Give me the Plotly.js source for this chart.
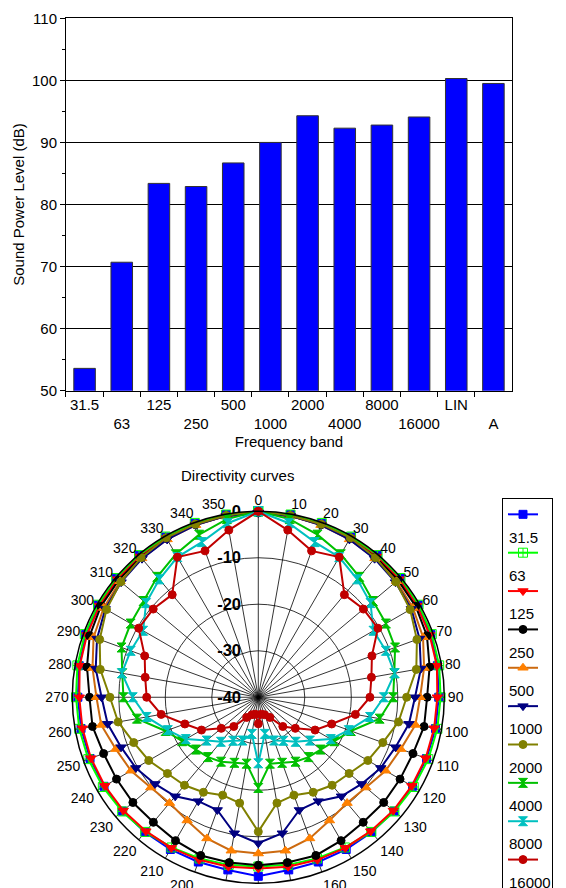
<!DOCTYPE html>
<html>
<head>
<meta charset="utf-8">
<script src="https://cdn.plot.ly/plotly-3.0.1.min.js"></script>
<style>html,body{margin:0;padding:0;background:#fff;}#chart{width:566px;height:888px;}</style>
</head>
<body>
<div id="chart"></div>
<script>
// ---- Bar chart data ----
const bands = ['31.5','63','125','250','500','1000','2000','4000','8000','16000','LIN','A'];
const bandTickText = ['31.5',' <br>63','125',' <br>250','500',' <br>1000','2000',' <br>4000','8000',' <br>16000','LIN',' <br>A'];
const levels = [53.6, 70.7, 83.4, 82.9, 86.7, 90.0, 94.3, 92.3, 92.8, 94.1, 100.3, 99.5];

// ---- Directivity data (dB relative, angle in degrees) ----
const angles = [0,10,20,30,40,50,60,70,80,90,100,110,120,130,140,150,160,170,180,190,200,210,220,230,240,250,260,270,280,290,300,310,320,330,340,350];
const angleLabels = ['0','10','20','30','40','50','60','70','80','90','100','110','120','130','140','150','160','170','180','190','200','210','220','230','240','250','260','270','280','290','300','310','320','330','340','350'];
const radialTicks = [-40,-30,-20,-10,0];
const radialLabels = ['-40','-30','-20','-10','0'];
const seriesNames = ['31.5','63','125','250','500','1000','2000','4000','8000','16000'];
const d31_5 = [0,-0.1,-0.2,-0.2,-0.2,-0.2,-0.3,-0.5,-0.9,-1.2,-1.3,-1.5,-1.7,-1.9,-2.1,-2.2,-2.3,-2.3,-1.5,
               -2.3,-2.3,-2.2,-2.1,-1.9,-1.7,-1.5,-1.3,-1.2,-0.9,-0.5,-0.3,-0.2,-0.2,-0.2,-0.2,-0.1];
const d63   = [0,-0.1,-0.1,-0.1,-0.1,-0.1,-0.2,-0.3,-0.5,-0.8,-0.9,-1.1,-1.4,-1.8,-2.2,-2.7,-3.1,-3.4,-3.6,
               -3.4,-3.1,-2.7,-2.2,-1.8,-1.4,-1.1,-0.9,-0.8,-0.5,-0.3,-0.2,-0.1,-0.1,-0.1,-0.1,-0.1];
const d125  = [-0.3,-0.4,-0.5,-0.5,-0.5,-0.5,-0.6,-0.8,-1.0,-1.5,-1.6,-1.7,-1.9,-2.1,-2.4,-2.6,-2.8,-3.0,-3.2,
               -3.0,-2.8,-2.6,-2.4,-2.1,-1.9,-1.7,-1.6,-1.5,-1.0,-0.8,-0.6,-0.5,-0.5,-0.5,-0.5,-0.4];
const d250  = [-0.3,-0.4,-0.5,-0.6,-0.7,-0.8,-0.9,-1.4,-2.6,-3.7,-3.8,-4.6,-4.8,-4.8,-4.9,-4.4,-3.8,-3.9,-3.9,
               -3.9,-3.8,-4.4,-4.9,-4.8,-4.8,-4.6,-3.8,-3.7,-2.6,-1.4,-0.9,-0.8,-0.7,-0.6,-0.5,-0.4];
const d500  = [-0.3,-0.4,-0.6,-0.8,-1.0,-1.2,-1.6,-2.3,-3.8,-5.2,-5.7,-7.4,-8.4,-9.8,-10.3,-9.4,-7.7,-6.5,-6.4,
               -6.5,-7.7,-9.4,-10.3,-9.8,-8.4,-7.4,-5.7,-5.2,-3.8,-2.3,-1.6,-1.2,-1.0,-0.8,-0.6,-0.4];
const d1000 = [-0.3,-0.4,-0.6,-0.8,-1.1,-1.5,-2.0,-3.1,-4.5,-6.3,-7.1,-8.6,-9.6,-11.0,-12.2,-14.2,-14.2,-10.3,-8.6,
               -10.3,-14.2,-14.2,-12.2,-11.0,-9.6,-8.6,-7.1,-6.3,-4.5,-3.1,-2.0,-1.5,-1.1,-0.8,-0.6,-0.4];
const d2000 = [0,-0.3,-0.4,-0.4,-0.8,-1.4,-2.3,-3.7,-5.5,-8.1,-9.4,-11.5,-12.8,-14.5,-15.3,-16.4,-17.6,-16.9,-11.1,
               -16.9,-17.6,-16.4,-15.3,-14.5,-12.8,-11.5,-9.4,-8.1,-5.5,-3.7,-2.3,-1.4,-0.8,-0.4,-0.4,-0.3];
const d4000 = [0,-1.1,-2.8,-4.5,-6.2,-7.8,-8.3,-8.7,-10.3,-11.0,-13.5,-18.8,-21.1,-22.5,-23.2,-24.0,-25.0,-25.5,-20.5,
               -25.5,-25.0,-24.0,-23.2,-22.5,-21.1,-18.8,-13.5,-11.0,-10.3,-8.7,-8.3,-7.8,-6.2,-4.5,-2.8,-1.1];
const d8000 = [0,-2.0,-4.5,-5.2,-6.9,-8.5,-11.4,-10.8,-10.2,-13.0,-15.6,-19.3,-22.0,-25.5,-27.5,-29.2,-30.1,-32.0,-25.8,
               -32.0,-30.1,-29.2,-27.5,-25.5,-22.0,-19.3,-15.6,-13.0,-10.2,-10.8,-11.4,-8.5,-6.9,-5.2,-4.5,-2.0];
const d16000= [0,-3.5,-6.5,-5.2,-11.2,-10.5,-10.3,-14.0,-15.3,-16.0,-18.8,-23.2,-25.9,-29.6,-31.8,-35.0,-36.0,-36.3,-34.3,
               -36.3,-36.0,-35.0,-31.8,-29.6,-25.9,-23.2,-18.8,-16.0,-15.3,-14.0,-10.3,-10.5,-11.2,-5.2,-6.5,-3.5];
const seriesData = [d31_5,d63,d125,d250,d500,d1000,d2000,d4000,d8000,d16000];

const styles = [
  {line:'#0000FF', marker:'#0000FF', symbol:'square', size:8},
  {line:'#00FF00', marker:'#00FF00', symbol:'square-cross-open', size:9},
  {line:'#FF0000', marker:'#FF0000', symbol:'triangle-down', size:9},
  {line:'#000000', marker:'#000000', symbol:'circle', size:8},
  {line:'#CC6A10', marker:'#FF8000', symbol:'triangle-up', size:9},
  {line:'#000080', marker:'#000080', symbol:'triangle-down', size:9},
  {line:'#808000', marker:'#808000', symbol:'circle', size:8},
  {line:'#00C000', marker:'#00C000', symbol:'hourglass', size:9},
  {line:'#00C0C0', marker:'#00C0C0', symbol:'hourglass', size:9},
  {line:'#C00000', marker:'#C00000', symbol:'circle', size:8}
];

const traces = [{
  type:'bar', x:bands, y:levels, xaxis:'x', yaxis:'y', showlegend:false,
  marker:{color:'#0000FF', line:{color:'#333333', width:1}}
}];

seriesData.forEach((vals, i) => {
  const st = styles[i];
  traces.push({
    type:'scatterpolar', subplot:'polar',
    r: vals.concat([vals[0]]),
    theta: angles.concat([angles[0]]),
    mode:'lines+markers',
    name:'&nbsp;<br>&nbsp;',
    cliponaxis:false,
    line:{color:st.line, width:2},
    marker:{color:st.marker, symbol:st.symbol, size:st.size, line:{color:st.marker, width:1}}
  });
});

// legend labels (text under each legend symbol, as in the reference)
const legendTop = 498, legendFont = 13.6, legendStep = 2 * 1.3 * legendFont + 3;
const annotations = seriesNames.map((nm, i) => ({
  text: nm, xref:'paper', yref:'paper', showarrow:false,
  x: 507/566, xanchor:'left',
  y: 1 - (legendTop + 17 + 22 + i * legendStep) / 888, yanchor:'middle',
  font:{size:15}
}));

const layout = {
  width:566, height:888,
  margin:{l:0, r:0, t:0, b:0, autoexpand:false},
  paper_bgcolor:'#fff', plot_bgcolor:'#fff',
  font:{family:'Liberation Sans, Arial, sans-serif', color:'#000', size:14},
  bargap:0.42,
  xaxis:{
    domain:[0.1166, 0.9046], anchor:'y', type:'category', automargin:false,
    tickmode:'array', tickvals:bands, ticktext:bandTickText, tickangle:0,
    tickson:'boundaries', ticks:'outside', ticklen:5, tickcolor:'#000',
    showline:true, linecolor:'#000', mirror:true, showgrid:false,
    tickfont:{size:15},
    title:{text:'Frequency band', font:{size:15}, standoff:5}
  },
  yaxis:{
    domain:[0.56, 0.9794], anchor:'x', range:[50,110], dtick:10, automargin:false,
    ticks:'outside', ticklen:5, tickcolor:'#000',
    minor:{dtick:5, ticks:'outside', ticklen:3, tickcolor:'#000', showgrid:false},
    showgrid:true, gridcolor:'#000', gridwidth:1,
    showline:true, linecolor:'#000', mirror:true, zeroline:false,
    tickfont:{size:15},
    title:{text:'Sound Power Level (dB)', font:{size:15}, standoff:3}
  },
  title:{text:'Directivity curves', x:0.42, y:0.464, xref:'paper', yref:'paper',
         xanchor:'center', yanchor:'middle', font:{size:15}},
  polar:{
    domain:{x:[0.1277, 0.785], y:[0.0053, 0.4243]},
    bgcolor:'#fff',
    angularaxis:{rotation:90, direction:'clockwise', tickmode:'array',
      tickvals:angles, ticktext:angleLabels, showgrid:true,
      gridcolor:'#000', gridwidth:0.8, showline:true, linecolor:'#000', linewidth:1.5,
      ticks:'', tickfont:{size:14}},
    radialaxis:{range:[-40,0], tickmode:'array', tickvals:radialTicks, ticktext:radialLabels,
      angle:90, tickangle:90, side:'counterclockwise', showline:false,
      showgrid:true, gridcolor:'#000', gridwidth:0.8,
      ticks:'outside', ticklen:11, tickcolor:'rgba(0,0,0,0)',
      tickfont:{size:16.5, weight:'bold'}, layer:'below traces'}
  },
  legend:{x:502/566, y:1 - legendTop/888, xanchor:'left', yanchor:'top',
    bordercolor:'#000', borderwidth:1, bgcolor:'#fff',
    font:{size:legendFont}, valign:'top', tracegroupgap:0},
  annotations: annotations
};

Plotly.newPlot('chart', traces, layout, {displayModeBar:false, staticPlot:true});
</script>
</body>
</html>
